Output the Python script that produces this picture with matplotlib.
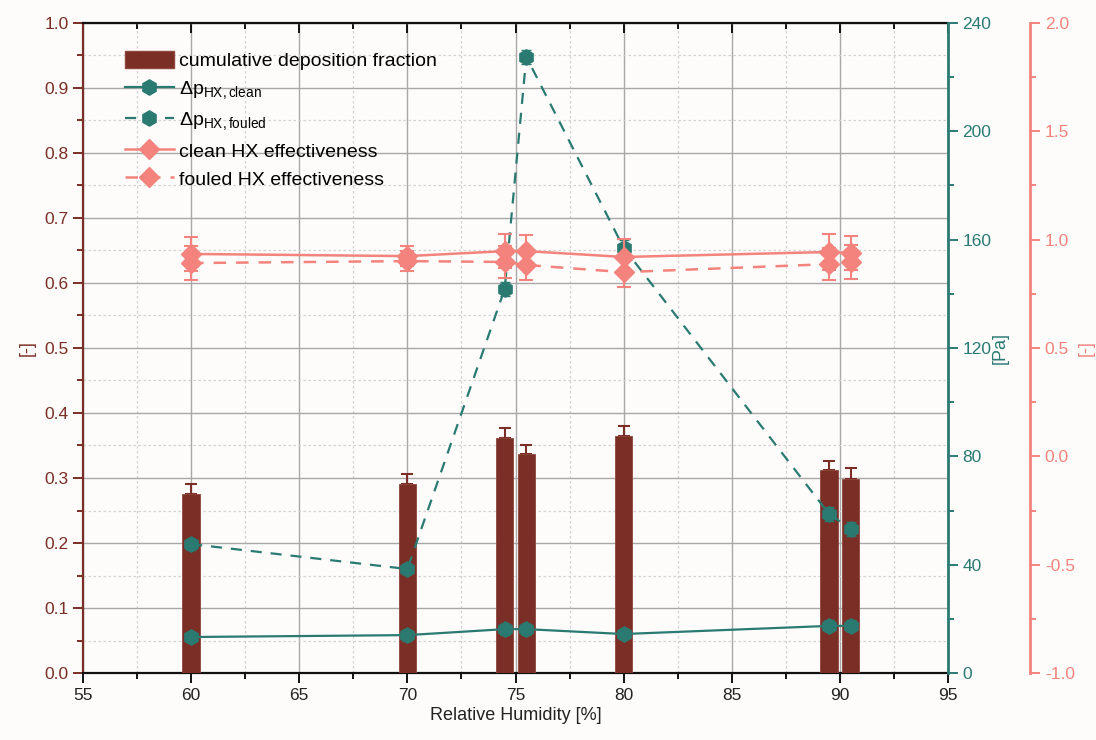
import matplotlib
matplotlib.use("Agg")
import matplotlib.pyplot as plt
from matplotlib.ticker import MultipleLocator, FormatStrFormatter
from matplotlib.lines import Line2D
from matplotlib.patches import Patch
import numpy as np

plt.rcParams['font.family'] = ['Liberation Sans', 'DejaVu Sans']
plt.rcParams['mathtext.fontset'] = 'custom'
plt.rcParams['mathtext.rm'] = 'Liberation Sans'
plt.rcParams['mathtext.it'] = 'Liberation Sans:italic'
plt.rcParams['mathtext.bf'] = 'Liberation Sans:bold'

# ---------------- data ----------------
rh = [60, 70, 74.5, 75.5, 80, 89.5, 90.5]
deposition = [0.275, 0.291, 0.362, 0.337, 0.365, 0.312, 0.298]
deposition_err = [0.016, 0.015, 0.015, 0.014, 0.015, 0.014, 0.017]

dp_clean = [13.3, 14.0, 16.2, 16.2, 14.4, 17.4, 17.4]
dp_clean_err = [2.0, 2.0, 2.0, 2.0, 2.0, 2.0, 2.0]
dp_fouled = [47.6, 38.4, 141.8, 227.5, 157.0, 58.7, 53.2]
dp_fouled_err = [2.0, 2.0, 2.5, 2.5, 3.0, 2.5, 2.5]

eff_clean = [0.934, 0.924, 0.947, 0.947, 0.920, 0.943, 0.938]
eff_clean_err = [0.078, 0.046, 0.078, 0.074, 0.083, 0.083, 0.078]
eff_fouled = [0.892, 0.901, 0.897, 0.883, 0.850, 0.887, 0.897]
eff_fouled_err = [0.078, 0.046, 0.074, 0.069, 0.069, 0.074, 0.078]

xticks = [55, 60, 65, 70, 75, 80, 85, 90, 95]

labels = ['cumulative deposition fraction',
          r'$\mathrm{\Delta p_{HX,clean}}$',
          r'$\mathrm{\Delta p_{HX,fouled}}$',
          'clean HX effectiveness',
          'fouled HX effectiveness']

# ---------------- style ----------------
BROWN = '#7A2E25'
TEAL = '#2A7A72'
SALMON = '#F3837C'
BG = '#FDFCFB'
DASH = (0, (5, 4))

fig = plt.figure(figsize=(10.96, 7.40), dpi=100, facecolor=BG)
ax1 = fig.add_axes([0.0757, 0.0905, 0.7893, 0.8785])
ax1.set_facecolor(BG)
ax2 = ax1.twinx()
ax3 = ax1.twinx()
ax3.spines['right'].set_position(('axes', 1.095))

# bars
ax1.bar(rh, deposition, width=0.8, color=BROWN, edgecolor='#8E463D', linewidth=0.6, zorder=3)
ax1.errorbar(rh, deposition, yerr=[np.zeros(len(deposition)), deposition_err], fmt='none',
             ecolor=BROWN, elinewidth=1.5, capsize=4.5, capthick=1.5, zorder=2.9)

# pressure drop
ax2.errorbar(rh, dp_clean, yerr=dp_clean_err, color=TEAL, marker='h', markersize=11,
             linestyle='-', linewidth=1.6, elinewidth=1.2, capsize=3.5)
ax2.errorbar(rh, dp_fouled, yerr=dp_fouled_err, color=TEAL, marker='h', markersize=11,
             linestyle=DASH, linewidth=1.6, elinewidth=1.2, capsize=3.5)

# effectiveness
ax3.errorbar(rh, eff_clean, yerr=eff_clean_err, color=SALMON, marker='D', markersize=10,
             linestyle='-', linewidth=1.8, elinewidth=1.5, capsize=5, capthick=1.5)
ax3.errorbar(rh, eff_fouled, yerr=eff_fouled_err, color=SALMON, marker='D', markersize=10,
             linestyle=DASH, linewidth=1.8, elinewidth=1.5, capsize=5, capthick=1.5)

# ---------------- axes ----------------
ax1.set_xlim(55, 95)
ax1.set_ylim(0, 1.0)
ax2.set_ylim(0, 240)
ax3.set_ylim(-1.0, 2.0)

ax1.set_xticks(xticks)
ax1.xaxis.set_minor_locator(MultipleLocator(2.5))
ax1.yaxis.set_major_locator(MultipleLocator(0.1))
ax1.yaxis.set_minor_locator(MultipleLocator(0.05))
ax1.yaxis.set_major_formatter(FormatStrFormatter('%.1f'))
ax2.yaxis.set_major_locator(MultipleLocator(40))
ax2.yaxis.set_minor_locator(MultipleLocator(20))
ax3.yaxis.set_major_locator(MultipleLocator(0.5))
ax3.yaxis.set_minor_locator(MultipleLocator(0.25))
ax3.yaxis.set_major_formatter(FormatStrFormatter('%.1f'))

ax1.grid(True, which='major', color='#A8A8A8', linewidth=1.0, linestyle='-', zorder=0)
ax1.grid(True, which='minor', color='#D2D2D2', linewidth=0.9, linestyle=(0, (2, 2)), zorder=0)
ax1.set_axisbelow(True)

ax1.spines['left'].set_color(BROWN)
ax1.spines['left'].set_linewidth(1.6)
for s in ['top', 'bottom']:
    ax1.spines[s].set_color('#111111')
    ax1.spines[s].set_linewidth(1.6)
ax1.spines['right'].set_visible(False)
for a in (ax2, ax3):
    for s in ['left', 'top', 'bottom']:
        a.spines[s].set_visible(False)
ax2.spines['right'].set_color(TEAL)
ax2.spines['right'].set_linewidth(2.0)
ax3.spines['right'].set_color(SALMON)
ax3.spines['right'].set_linewidth(2.0)

ax1.tick_params(axis='x', which='both', top=True, bottom=True, labelsize=12.5,
                labelcolor='#222222', color='#111111', width=1.4, direction='out')
ax1.tick_params(axis='x', which='major', length=7)
ax1.tick_params(axis='x', which='minor', length=4)
for t in ax1.xaxis.get_major_ticks() + ax1.xaxis.get_minor_ticks():
    t.tick2line.set_marker(3)  # top ticks point inward

for a, c in ((ax1, BROWN), (ax2, TEAL), (ax3, SALMON)):
    a.tick_params(axis='y', which='both', colors=c, labelsize=12.5, width=1.4, direction='out')
    a.tick_params(axis='y', which='major', length=7)
    a.tick_params(axis='y', which='minor', length=4)

ax1.set_xlabel('Relative Humidity [%]', fontsize=13, color='#222222', labelpad=3)
ax1.set_ylabel('[-]', fontsize=13, color=BROWN, labelpad=6)
ax2.set_ylabel('[Pa]', fontsize=13, color=TEAL, labelpad=0)
ax3.set_ylabel('[-]', fontsize=13, color=SALMON, labelpad=2)

# legend
handles = [Patch(facecolor=BROWN, edgecolor='#8E463D'),
           Line2D([], [], color=TEAL, marker='h', markersize=11, linewidth=1.6),
           Line2D([], [], color=TEAL, marker='h', markersize=11, linewidth=1.6, linestyle=DASH),
           Line2D([], [], color=SALMON, marker='D', markersize=10, linewidth=1.8),
           Line2D([], [], color=SALMON, marker='D', markersize=10, linewidth=1.8, linestyle=DASH)]
leg = ax3.legend(handles, labels, loc='upper left',
                 bbox_to_anchor=(0.035, 0.975), frameon=False, fontsize=14,
                 handlelength=2.5, handleheight=1.0, handletextpad=0.3, labelspacing=0.45,
                 borderaxespad=0.2)
leg.set_zorder(10)

fig.savefig('out.png', dpi=100, facecolor=BG)
